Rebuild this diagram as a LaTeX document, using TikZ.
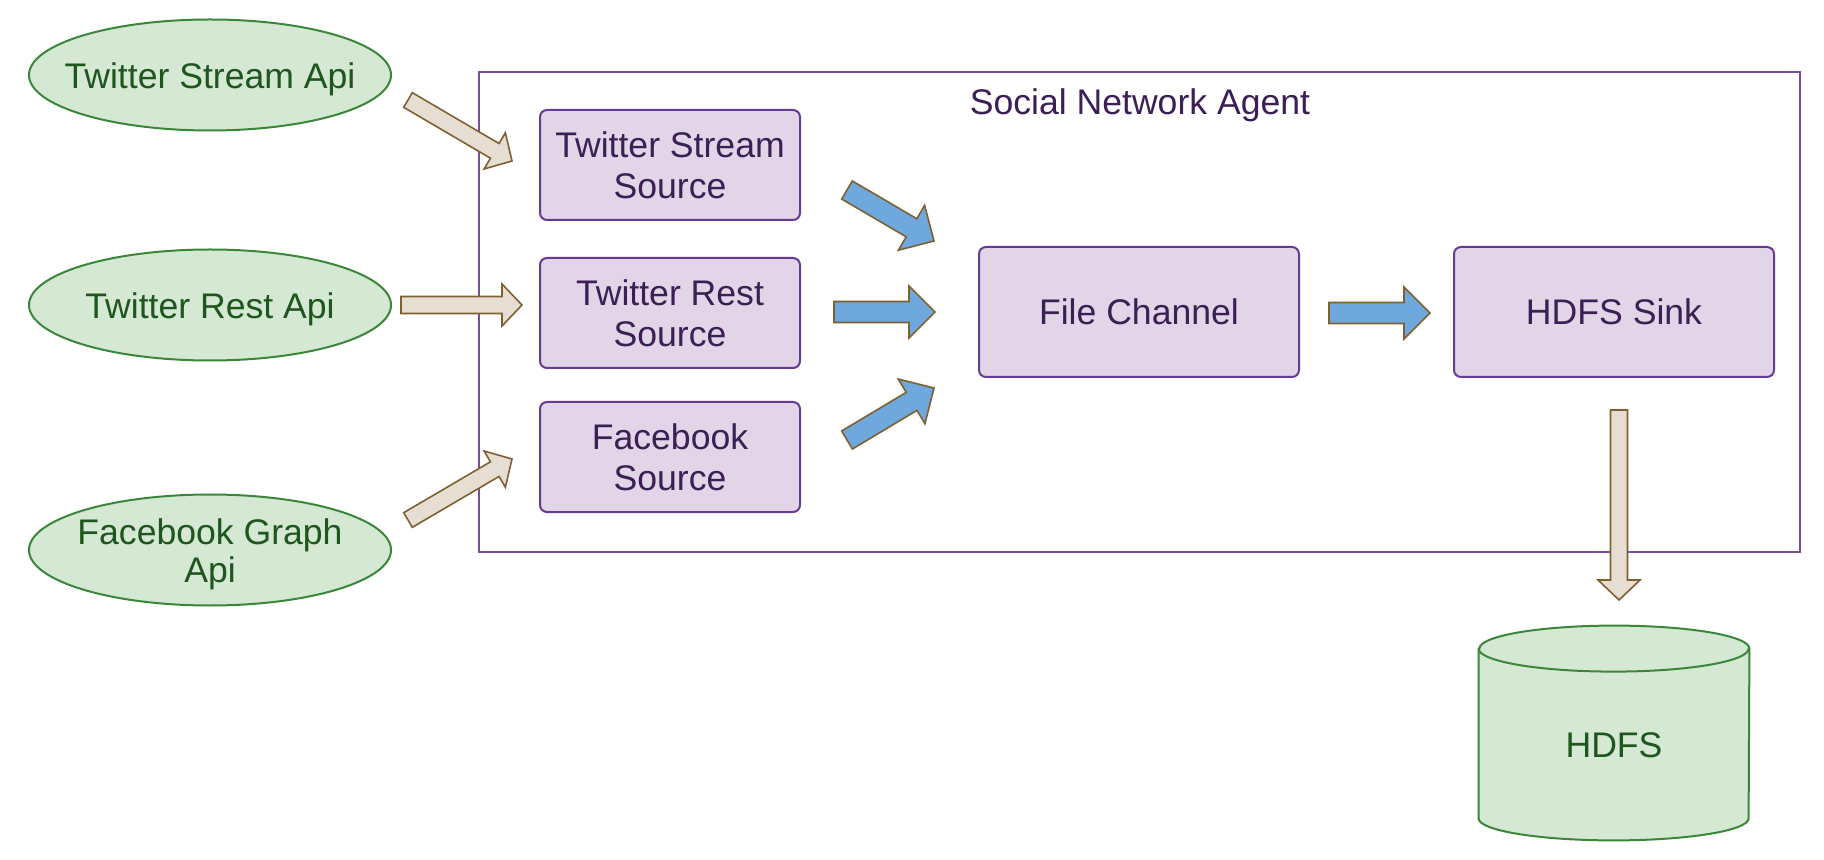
\documentclass[tikz,border=0pt]{standalone}
\usepackage{fontspec}
\setmainfont{Liberation Sans}
\usetikzlibrary{shapes.geometric,calc,backgrounds}
\definecolor{apifill}{HTML}{D5E8D4}
\definecolor{apiline}{HTML}{3A873A}
\definecolor{apitext}{HTML}{1E561E}
\definecolor{compfill}{HTML}{E1D5E7}
\definecolor{compline}{HTML}{673A96}
\definecolor{comptext}{HTML}{3B1F55}
\definecolor{agentline}{HTML}{7A4E9C}
\definecolor{beigefill}{HTML}{E6DED3}
\definecolor{arrline}{HTML}{7F6030}
\definecolor{bluefill}{HTML}{6FA8DC}
\newcommand\blockarrow[6]{%
  \path[#1] let \p1=(#2), \p2=(#3),
     \n1={atan2(\y2-\y1,\x2-\x1)},
     \n2={veclen(\x2-\x1,\y2-\y1)-#6}
  in ($(\p1)+(\n1+90:#4)$) -- ($(\p1)+(\n1:\n2)+(\n1+90:#4)$)
  -- ($(\p1)+(\n1:\n2)+(\n1+90:#5)$) -- (\p2)
  -- ($(\p1)+(\n1:\n2)+(\n1-90:#5)$) -- ($(\p1)+(\n1:\n2)+(\n1-90:#4)$)
  -- ($(\p1)+(\n1-90:#4)$) -- cycle;}
\tikzset{
  api/.style={ellipse, draw=apiline, fill=apifill, line width=1pt, inner sep=0pt,
    minimum width=181pt, minimum height=55.5pt},
  apilabel/.style={text=apitext, align=center, yshift=-2pt,
    font=\fontsize{17.8pt}{18.8pt}\selectfont},
  comp/.style={rectangle, rounded corners=3.5pt, draw=compline, fill=compfill,
    line width=1pt, text=comptext, align=center, inner sep=0pt},
  agentbox/.style={rectangle, draw=agentline, line width=0.9pt, inner sep=0pt,
    minimum width=660.5pt, minimum height=240pt},
  beigearrow/.style={draw=arrline, fill=beigefill, line width=0.8pt, line join=miter},
  bluearrow/.style={draw=arrline, fill=bluefill, line width=0.8pt, line join=miter},
  cyl/.style={draw=apiline, fill=apifill, line width=1pt},
}
\begin{document}
\begin{tikzpicture}[x=0.5pt, y=-0.5pt, font=\fontsize{17.8pt}{20.5pt}\selectfont]
\useasboundingbox (0,0) rectangle (1824,860);
% agent container
\node[agentbox] (agent) at (1139.5,312) {};
\node[text=comptext] (title) at (1140,105.5) {Social Network Agent};
% external apis
\node[api, label={[apilabel]center:Twitter Stream Api}] (tsa) at (210,75) {};
\node[api, label={[apilabel]center:Twitter Rest Api}] (tra) at (210,305) {};
\node[api, label={[apilabel]center:Facebook Graph\\Api}] (fga) at (210,550) {};
% sources
\node[comp, minimum width=130pt, minimum height=55pt] (tss) at (670,165) {Twitter Stream\\Source};
\node[comp, minimum width=130pt, minimum height=55pt] (trs) at (670,313) {Twitter Rest\\Source};
\node[comp, minimum width=130pt, minimum height=55pt] (fbs) at (670,457) {Facebook\\Source};
\node[comp, minimum width=160pt, minimum height=65pt] (fc) at (1139,312) {File Channel};
\node[comp, minimum width=160pt, minimum height=65pt] (sink) at (1614,312) {HDFS Sink};
% HDFS cylinder
\node[minimum width=135pt, minimum height=107pt, inner sep=0pt,
  label={[text=apitext, yshift=-6pt]center:HDFS}] (hdfs) at (1614,733) {};
\begin{scope}[on background layer]
\draw[cyl] ([yshift=-11.5pt]hdfs.north west) -- ([yshift=11pt]hdfs.south west)
  arc[start angle=180, end angle=360, x radius=67.5pt, y radius=11pt]
  -- ([yshift=-11.5pt]hdfs.north east)
  arc[start angle=0, end angle=180, x radius=67.5pt, y radius=11.5pt] -- cycle;
\draw[cyl, fill=none] ([yshift=-11.5pt]hdfs.north west)
  arc[start angle=180, end angle=360, x radius=67.5pt, y radius=11.5pt];
\end{scope}
% arrow end points
\coordinate (a1s) at (408,100);  \coordinate (a1e) at (512,161);
\coordinate (a2s) at (401,305);  \coordinate (a2e) at (522,305);
\coordinate (a3s) at (408,520);  \coordinate (a3e) at (512,459);
\coordinate (b1s) at (847,190);  \coordinate (b1e) at (934,241);
\coordinate (b2s) at (834,312);  \coordinate (b2e) at (935,312);
\coordinate (b3s) at (847,440);  \coordinate (b3e) at (934,388);
\coordinate (b4s) at (1329,313); \coordinate (b4e) at (1430,313);
\coordinate (d1s) at (1619,410); \coordinate (d1e) at (1619,600);
% arrows
\blockarrow{beigearrow}{a1s}{a1e}{4.25pt}{10.5pt}{10pt}
\blockarrow{beigearrow}{a2s}{a2e}{4.25pt}{10.5pt}{10pt}
\blockarrow{beigearrow}{a3s}{a3e}{4.25pt}{10.5pt}{10pt}
\blockarrow{bluearrow}{b1s}{b1e}{5.25pt}{13pt}{13pt}
\blockarrow{bluearrow}{b2s}{b2e}{5.25pt}{13pt}{13pt}
\blockarrow{bluearrow}{b3s}{b3e}{5.25pt}{13pt}{13pt}
\blockarrow{bluearrow}{b4s}{b4e}{5.25pt}{13pt}{13pt}
\blockarrow{beigearrow}{d1s}{d1e}{4.25pt}{10.5pt}{10pt}
\end{tikzpicture}
\end{document}
